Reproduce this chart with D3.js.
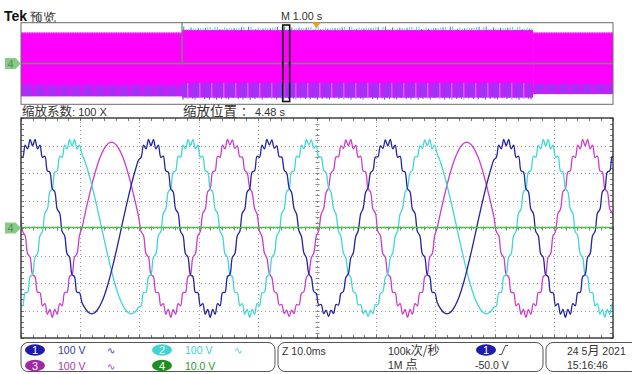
<!DOCTYPE html>
<html><head><meta charset="utf-8">
<script src="https://cdn.jsdelivr.net/npm/d3@7"></script>
<style>
html,body{margin:0;padding:0;background:#fff;}
svg{display:block;}
text{font-family:"Liberation Sans",Arial,sans-serif;}
</style></head><body>
<svg id="c" width="632" height="374"></svg>
<script>
// ---------------- DATA ----------------
// Zoomed record: samples every 0.4167 ms starting at -0.13 ms (values in volts)
const sampleStartMs = -0.13;
const sampleStepMs = 0.4167;

const ch1Volts = [
261, 257, 301, 288, 322,
299, 322, 288, 301, 257, 261, 208, 203, 143, 132, 68, 54, -13, -28, -94, -106, -169, -177, -234, -235,
-270, -288, -301, -309, -312, -309, -301, -288, -270, -248, -221, -190, -156, -119, -81, -41, 0, 41, 81, 119, 156, 190, 221, 248,
257, 301, 288, 322,
299, 322, 288, 301, 257, 261, 208, 203, 143, 132, 68, 54, -13, -28, -94, -106, -169, -177, -234, -235, -283, -275, -314, -296, -325, -296, -314, -275, -283, -235, -234, -177, -169, -106, -94, -28, -13, 54, 68, 132, 143, 203, 208, 261, 257, 301, 288, 322,
302, 320, 290, 299, 259, 258, 210, 200, 146, 129, 71, 51, -10, -31, -91, -109, -166, -180, -231, -238, -280, -278, -311, -299, -322, -299, -311, -278, -280, -238, -231, -180, -166, -109, -91, -31, -10, 51, 71, 129, 146, 200, 210, 258, 259, 299, 290, 320,
299, 322, 288, 301, 257, 261, 208, 203, 143, 132, 68, 54, -13, -28, -94, -106, -169, -177, -234, -235,
-270, -288, -301, -309, -312, -309, -301, -288, -270, -248, -221, -190, -156, -119, -81, -41, 0, 41, 81, 119, 156, 190, 221, 248,
257, 301, 288, 322,
299, 322, 288, 301, 257, 261, 208, 203, 143, 132, 68, 54, -13, -28, -94, -106, -169, -177, -234, -235, -283, -275, -314, -296, -325, -296, -314, -275, -283, -235, -234, -177, -169, -106, -94, -28, -13, 54, 68, 132, 143, 203, 208, 261, 257
];

const ch2Volts = [
-275, -283, -235, -234, -177, -169, -106, -94, -28, -13, 54, 68, 132, 143, 203, 208, 261, 257, 301, 288, 322,
299, 322, 288, 301,
270, 248, 221, 190, 156, 119, 81, 41, 0, -41, -81, -119, -156, -190, -221, -248, -270, -288, -301, -309, -312, -309, -301, -288,
-283, -235, -234, -177, -169, -106, -94, -28, -13, 54, 68, 132, 143, 203, 208, 261, 257, 301, 288, 322,
299, 322, 288, 301, 257, 261, 208, 203, 143, 132, 68, 54, -13, -28, -94, -106, -169, -177, -234, -235, -283, -275, -314, -296, -325, -296, -314, -275, -283, -235, -234, -177, -169, -106, -94, -28, -13, 54, 68, 132, 143, 203, 208, 261, 257, 301, 288, 322,
302, 320, 290, 299, 259, 258, 210, 200, 146, 129, 71, 51, -10, -31, -91, -109, -166, -180, -231, -238, -280, -278, -311, -299, -322, -299, -311, -278, -280, -238, -231, -180, -166, -109, -91, -31, -10, 51, 71, 129, 146, 200, 210, 258, 259, 299, 290, 320,
299, 322, 288, 301,
270, 248, 221, 190, 156, 119, 81, 41, 0, -41, -81, -119, -156, -190, -221, -248, -270, -288, -301, -309, -312, -309, -301, -288,
-283, -235, -234, -177, -169, -106, -94, -28, -13, 54, 68, 132, 143, 203, 208, 261, 257, 301, 288, 322,
299, 322, 288, 301, 257, 261, 208, 203, 143, 132, 68, 54, -13, -28, -94, -106, -169, -177, -234, -235, -283, -275, -314, -296, -325, -296, -314, -275, -283
];

const ch3Volts = [
54, -13, -28, -94, -106, -169, -177, -234, -235, -283, -275, -314, -296, -325, -296, -314, -275, -283, -235, -234, -177, -169, -106, -94, -28,
0, 41, 81, 119, 156, 190, 221, 248, 270, 288, 301, 309, 312, 309, 301, 288, 270, 248, 221, 190, 156, 119, 81, 41,
-13, -28, -94, -106, -169, -177, -234, -235, -283, -275, -314, -296, -325, -296, -314, -275, -283, -235, -234, -177, -169, -106, -94, -28, -13, 54, 68, 132, 143, 203, 208, 261, 257, 301, 288, 322,
302, 320, 290, 299, 259, 258, 210, 200, 146, 129, 71, 51, -10, -31, -91, -109, -166, -180, -231, -238, -280, -278, -311, -299, -322, -299, -311, -278, -280, -238, -231, -180, -166, -109, -91, -31, -10, 51, 71, 129, 146, 200, 210, 258, 259, 299, 290, 320,
299, 322, 288, 301, 257, 261, 208, 203, 143, 132, 68, 54, -13, -28, -94, -106, -169, -177, -234, -235, -283, -275, -314, -296, -325, -296, -314, -275, -283, -235, -234, -177, -169, -106, -94, -28,
0, 41, 81, 119, 156, 190, 221, 248, 270, 288, 301, 309, 312, 309, 301, 288, 270, 248, 221, 190, 156, 119, 81, 41,
-13, -28, -94, -106, -169, -177, -234, -235, -283, -275, -314, -296, -325, -296, -314, -275, -283, -235, -234, -177, -169, -106, -94, -28, -13, 54, 68, 132, 143, 203, 208, 261, 257, 301, 288, 322,
299, 322, 288, 301, 257, 261, 208, 203, 143, 132, 68, 54, -13
];

const ch4TimesMs = [0, 100];
const ch4Volts = [0, 0];

const mainTimeTicksMs = [0, 10, 20, 30, 40, 50, 60, 70, 80, 90, 100];
const mainVoltTicks = [-400, -300, -200, -100, 0, 100, 200, 300, 400];

// Overview (10 s record): envelope segments
const ovSegStartS = [0, 2.72, 8.65];
const ovSegEndS = [2.72, 8.65, 10];
const ovMagentaMaxV = [305, 328, 305];
const ovUpperEdgeV = [305, 362, 305];
const ovStripeTopV = [-208, -192, -200];
const ovLowerEdgeV = [-322, -355, -300];
const ovStripeJitterV = [0, 18, 6, 25, 10, 3, 22, 14, 30, 8, 16, 2, 20, 11];
const ovCh4TimesS = [0, 2.72, 2.72, 2.72, 10];
const ovCh4Volts = [0, 0, 40, 0, 0];
const zoomCenterS = 4.48;
const zoomWidthS = 0.1;
const triggerPosS = 5.0;

// Readouts
const chanLabels = ["1", "2", "3", "4"];
const chanScales = ["100 V", "100 V", "100 V", "10.0 V"];
const chanColors = ["#1c1cb0", "#3fd3d3", "#a326a3", "#1f8f1f"];
const chanTextColors = ["#3535a8", "#3ccfcf", "#a835a8", "#2a962a"];

// ---------------- DRAW ----------------
const svg = d3.select("#c");
const defs = svg.append("defs");

// ===== Header =====
svg.append("text").attr("x", 4).attr("y", 21).attr("font-family", "Liberation Serif, serif")
  .attr("font-weight", "bold").attr("font-size", 14).attr("fill", "#111").text("Tek");
svg.append("text").attr("x", 30).attr("y", 21.5).attr("font-family", "Noto Sans CJK SC")
  .attr("font-size", 13).attr("fill", "#333").text("预览");
svg.append("text").attr("x", 281).attr("y", 20).attr("font-size", 10.5).attr("fill", "#333")
  .attr("textLength", 41).attr("lengthAdjust", "spacingAndGlyphs").text("M 1.00 s");

// ===== Overview =====
const ox = d3.scaleLinear().domain([0, 10]).range([21, 613]);
const oy = d3.scaleLinear().domain([-400, 400]).range([104.3, 22.7]);
const oy4 = d3.scaleLinear().domain([-40, 40]).range([104.3, 22.7]);
defs.append("clipPath").attr("id", "ovclip").append("rect")
  .attr("x", 21).attr("y", 22.7).attr("width", 592).attr("height", 81.6);
svg.append("rect").attr("x", 21).attr("y", 22.7).attr("width", 592).attr("height", 81.6).attr("fill", "#fff");
const ov = svg.append("g").attr("clip-path", "url(#ovclip)");

ovSegStartS.forEach((s, k) => {
  const xa = ox(s), xb = ox(ovSegEndS[k]);
  const mid = k === 1;
  ov.append("rect").attr("x", xa).attr("width", xb - xa)
    .attr("y", oy(ovMagentaMaxV[k])).attr("height", oy(ovLowerEdgeV[k] + (mid ? 20 : 0)) - oy(ovMagentaMaxV[k]))
    .attr("fill", "#ff00ff");
  const cols = d3.range(xa + 1, xb, 2.4);
  ov.selectAll(null).data(cols).join("line")
    .attr("x1", d => d).attr("x2", d => d)
    .attr("y1", oy(ovStripeTopV[k]))
    .attr("y2", (d, i) => oy(ovLowerEdgeV[k] + (mid ? ovStripeJitterV[i % ovStripeJitterV.length] : 0)))
    .attr("stroke", (d, i) => mid && i % 5 === 2 ? "#55b8f0" : "#5a5af0").attr("stroke-width", 1.1);
  if (mid) {
    ov.selectAll(null).data(cols).join("line")
      .attr("x1", d => d + 0.8).attr("x2", d => d + 0.8)
      .attr("y1", oy(ovMagentaMaxV[k] - 4))
      .attr("y2", (d, i) => oy(ovUpperEdgeV[k] - ovStripeJitterV[(i * 3) % ovStripeJitterV.length]))
      .attr("stroke", (d, i) => i % 3 === 0 ? "#4a6af0" : "#5ec8f0").attr("stroke-width", 1);
  } else {
    ov.append("line").attr("x1", xa).attr("x2", xb)
      .attr("y1", oy(ovMagentaMaxV[k]) + 0.5).attr("y2", oy(ovMagentaMaxV[k]) + 0.5)
      .attr("stroke", "#c8c8ff").attr("stroke-width", 1).attr("stroke-dasharray", "1,1.4");
  }
});
ov.append("path").datum(ovCh4Volts)
  .attr("d", d3.line().x((d, i) => ox(ovCh4TimesS[i])).y(d => oy4(d)))
  .attr("fill", "none").attr("stroke", "#6f8f6f").attr("stroke-width", 1.3);
svg.append("rect").attr("x", 21).attr("y", 22.7).attr("width", 592).attr("height", 81.6)
  .attr("fill", "none").attr("stroke", "#6a6a6a").attr("stroke-width", 1);
// zoom window box
svg.append("rect").attr("x", ox(zoomCenterS - zoomWidthS / 2) - 0.5).attr("y", 25)
  .attr("width", ox(zoomCenterS + zoomWidthS / 2) - ox(zoomCenterS - zoomWidthS / 2) + 1).attr("height", 76.5)
  .attr("fill", "none").attr("stroke", "#111").attr("stroke-width", 1.6);
// trigger position marker
const tx = ox(triggerPosS) - 0.5;
svg.append("path").attr("d", `M${tx - 4.5},22.5 L${tx + 4.5},22.5 L${tx},28 Z`).attr("fill", "#f0a020");

// channel 4 markers
function marker4(cy) {
  svg.append("path").attr("d", `M5,${cy - 5.5} L15.5,${cy - 5.5} L21,${cy} L15.5,${cy + 5.5} L5,${cy + 5.5} Z`)
    .attr("fill", "#86cc86");
  svg.append("text").attr("x", 10.5).attr("y", cy + 4).attr("text-anchor", "middle")
    .attr("font-size", 11).attr("fill", "#5a8a5a").text("4");
}
marker4(oy4(0));

// ===== zoom labels =====
const zl = svg.append("text").attr("x", 22).attr("y", 116).attr("fill", "#333");
zl.append("tspan").attr("font-family", "Noto Sans CJK SC").attr("font-size", 12.5).text("缩放系数");
zl.append("tspan").attr("font-size", 11).text(": 100 X");
const zp = svg.append("text").attr("x", 183).attr("y", 116).attr("fill", "#333");
zp.append("tspan").attr("font-family", "Noto Sans CJK SC").attr("font-size", 13.5).text("缩放位置");
zp.append("tspan").attr("font-family", "Noto Sans CJK SC").attr("font-size", 12).attr("dx", 4).text("：");
zp.append("tspan").attr("font-size", 11).attr("dx", 2).text("4.48 s");

// ===== Main plot =====
const x = d3.scaleLinear().domain([0, 100]).range([21, 613]);
const y = d3.scaleLinear().domain([-400, 400]).range([338, 118]);
const y4 = d3.scaleLinear().domain([-40, 40]).range([338, 118]);
defs.append("clipPath").attr("id", "mclip").append("rect")
  .attr("x", 21).attr("y", 118).attr("width", 592).attr("height", 220);

const grid = svg.append("g");
grid.selectAll(null).data(mainTimeTicksMs.slice(1, -1)).join("line")
  .attr("x1", d => Math.round(x(d)) + 0.5).attr("x2", d => Math.round(x(d)) + 0.5)
  .attr("y1", 118).attr("y2", 338).attr("stroke", "#9a9a9a").attr("stroke-dasharray", "1,3");
grid.selectAll(null).data(mainVoltTicks.slice(1, -1)).join("line")
  .attr("y1", d => Math.round(y(d)) + 0.5).attr("y2", d => Math.round(y(d)) + 0.5)
  .attr("x1", 21).attr("x2", 613).attr("stroke", "#9a9a9a").attr("stroke-dasharray", "1,3");
// minor ticks
const minorT = d3.range(0, 100.001, 2);
const minorV = d3.range(-400, 400.001, 20);
const cx0 = Math.round(x(50)) + 0.5, cy0 = Math.round(y(0)) + 0.5;
grid.selectAll(null).data(minorT).join("line")
  .attr("x1", d => Math.round(x(d)) + 0.5).attr("x2", d => Math.round(x(d)) + 0.5)
  .attr("y1", cy0 - 2).attr("y2", cy0 + 2).attr("stroke", "#888");
grid.selectAll(null).data(minorV).join("line")
  .attr("y1", d => Math.round(y(d)) + 0.5).attr("y2", d => Math.round(y(d)) + 0.5)
  .attr("x1", cx0 - 2).attr("x2", cx0 + 2).attr("stroke", "#888");
[[118, 1], [338, -1]].forEach(([yy, dir]) => {
  grid.selectAll(null).data(minorT).join("line")
    .attr("x1", d => Math.round(x(d)) + 0.5).attr("x2", d => Math.round(x(d)) + 0.5)
    .attr("y1", yy).attr("y2", yy + 3 * dir).attr("stroke", "#777");
});
[[21, 1], [613, -1]].forEach(([xx, dir]) => {
  grid.selectAll(null).data(minorV).join("line")
    .attr("y1", d => Math.round(y(d)) + 0.5).attr("y2", d => Math.round(y(d)) + 0.5)
    .attr("x1", xx).attr("x2", xx + 3 * dir).attr("stroke", "#777");
});

const plot = svg.append("g").attr("clip-path", "url(#mclip)");
const traceLine = d3.line()
  .x((d, i) => x(sampleStartMs + i * sampleStepMs))
  .y(d => y(d))
  .curve(d3.curveCatmullRom.alpha(0.5));
[[ch3Volts, "#cc3ccc"], [ch2Volts, "#3fd6d6"], [ch1Volts, "#2323a3"]].forEach(([vals, col]) => {
  plot.append("path").datum(vals).attr("d", traceLine)
    .attr("fill", "none").attr("stroke", col).attr("stroke-width", 1.3).attr("stroke-linejoin", "round");
});
plot.append("path").datum(ch4Volts)
  .attr("d", d3.line().x((d, i) => x(ch4TimesMs[i])).y(d => y4(d) - 0.5))
  .attr("fill", "none").attr("stroke", "#44c444").attr("stroke-width", 1.6);

svg.append("rect").attr("x", 21).attr("y", 118).attr("width", 592).attr("height", 220)
  .attr("fill", "none").attr("stroke", "#333").attr("stroke-width", 1.4);
marker4(y4(0));

// ===== Status bar =====
const sb = svg.append("g");
[[21, 254], [278, 265], [546, 92]].forEach(([bx, bw]) => {
  sb.append("rect").attr("x", bx).attr("y", 342.5).attr("width", bw).attr("height", 29)
    .attr("rx", 7).attr("fill", "none").attr("stroke", "#555").attr("stroke-width", 1);
});
const badgeX = [35, 162, 35, 162];
const badgeY = [350, 350, 365.5, 365.5];
chanLabels.forEach((lab, i) => {
  sb.append("ellipse").attr("cx", badgeX[i]).attr("cy", badgeY[i]).attr("rx", 10).attr("ry", 5.8)
    .attr("fill", chanColors[i]);
  sb.append("text").attr("x", badgeX[i]).attr("y", badgeY[i] + 4).attr("text-anchor", "middle")
    .attr("font-size", 11).attr("fill", "#fff").text(lab);
  sb.append("text").attr("x", badgeX[i] + 23).attr("y", badgeY[i] + 4).attr("font-size", 10.5)
    .attr("fill", chanTextColors[i]).text(chanScales[i]);
  if (i < 3) {
    sb.append("text").attr("x", badgeX[i] + 72).attr("y", badgeY[i] + 4).attr("font-size", 10)
      .attr("font-family", "DejaVu Sans").attr("fill", chanTextColors[i]).text("∿");
  }
});
sb.append("text").attr("x", 282).attr("y", 354.5).attr("font-size", 10.5).attr("fill", "#333").text("Z 10.0ms");
const sr = sb.append("text").attr("x", 388).attr("y", 354.5).attr("fill", "#333");
sr.append("tspan").attr("font-size", 10.5).text("100k");
sr.append("tspan").attr("font-family", "Noto Sans CJK SC").attr("font-size", 12).text("次/秒");
const rl = sb.append("text").attr("x", 388).attr("y", 369).attr("fill", "#333");
rl.append("tspan").attr("font-size", 10.5).text("1M ");
rl.append("tspan").attr("font-family", "Noto Sans CJK SC").attr("font-size", 12).text("点");
sb.append("ellipse").attr("cx", 486).attr("cy", 350).attr("rx", 10).attr("ry", 5.8).attr("fill", chanColors[0]);
sb.append("text").attr("x", 486).attr("y", 354).attr("text-anchor", "middle").attr("font-size", 11).attr("fill", "#fff").text("1");
sb.append("path").attr("d", "M499,354.5 L501.5,354.5 L505.5,345.5 L508,345.5").attr("fill", "none")
  .attr("stroke", "#333").attr("stroke-width", 0.9);
sb.append("text").attr("x", 475).attr("y", 369).attr("font-size", 10.5).attr("fill", "#333").text("-50.0 V");
const dt = sb.append("text").attr("x", 567).attr("y", 354.5).attr("fill", "#333");
dt.append("tspan").attr("font-size", 10.5).text("24 5");
dt.append("tspan").attr("font-family", "Noto Sans CJK SC").attr("font-size", 12).text("月");
dt.append("tspan").attr("font-size", 10.5).text(" 2021");
sb.append("text").attr("x", 567).attr("y", 369).attr("font-size", 10.5).attr("fill", "#333").text("15:16:46");
</script>
</body></html>
